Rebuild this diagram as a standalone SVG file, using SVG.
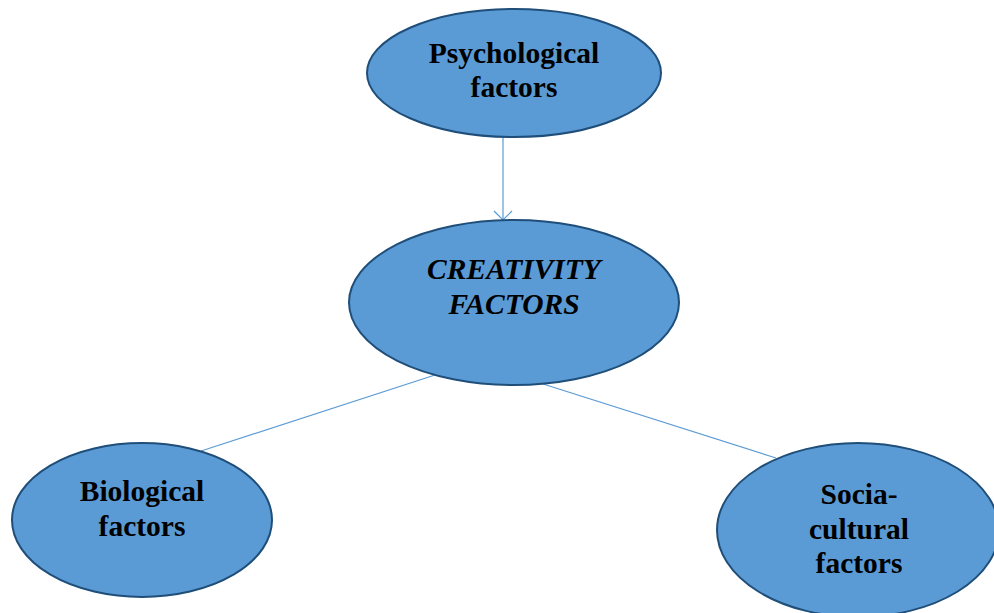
<svg xmlns="http://www.w3.org/2000/svg" width="994" height="613" viewBox="0 0 994 613">
  <style>
    .node { fill: #5b9bd5; stroke: #1f4e79; stroke-width: 2; }
    .label { font-family: "Liberation Serif", "Times New Roman", serif; font-weight: bold; font-size: 29.5px; fill: #000; text-anchor: middle; }
    .italic { font-style: italic; }
    .link { stroke: #5b9bd5; stroke-width: 1.2; fill: none; }
  </style>
  <defs>
    <marker id="open-arrow" markerWidth="20" markerHeight="20" refX="10" refY="10" orient="auto" markerUnits="userSpaceOnUse">
      <path d="M1,1 L10,10 L1,19" fill="none" stroke="#5b9bd5" stroke-width="1.2"/>
    </marker>
  </defs>
  <rect width="994" height="613" fill="#ffffff"/>

  <g id="connectors">
    <line class="link" x1="503" y1="137" x2="503" y2="220" marker-end="url(#open-arrow)"/>
    <line class="link" x1="435" y1="375" x2="201" y2="451"/>
    <line class="link" x1="540" y1="383" x2="776" y2="458"/>
  </g>

  <g id="psychological">
    <ellipse class="node" cx="514" cy="73" rx="147" ry="64"/>
    <text class="label" x="514" y="63">Psychological</text>
    <text class="label" x="514" y="97">factors</text>
  </g>

  <g id="creativity">
    <ellipse class="node" cx="514" cy="302.5" rx="165" ry="82.5"/>
    <text class="label italic" x="514" y="279">CREATIVITY</text>
    <text class="label italic" x="514" y="314">FACTORS</text>
  </g>

  <g id="biological">
    <ellipse class="node" cx="142" cy="520" rx="130" ry="77"/>
    <text class="label" x="142" y="501">Biological</text>
    <text class="label" x="142" y="536">factors</text>
  </g>

  <g id="socio-cultural">
    <ellipse class="node" cx="858" cy="530" rx="141" ry="87"/>
    <text class="label" x="859" y="504">Socia-</text>
    <text class="label" x="859" y="539">cultural</text>
    <text class="label" x="859" y="573">factors</text>
  </g>
</svg>
